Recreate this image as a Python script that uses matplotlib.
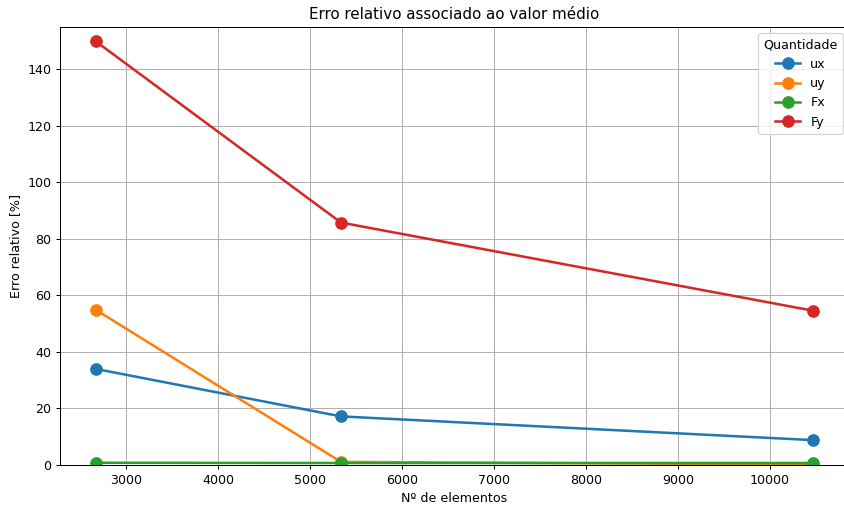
import matplotlib
matplotlib.use('Agg')
import matplotlib.pyplot as plt

# number of elements per mesh
n_elementos = [2670, 5335, 10470]

# relative error [%] for each quantity
erro_ux = [34.0, 17.2, 8.8]
erro_uy = [54.9, 1.1, 0.2]
erro_Fx = [0.8, 0.7, 0.7]
erro_Fy = [149.9, 85.8, 54.6]

series = [('ux', erro_ux), ('uy', erro_uy), ('Fx', erro_Fx), ('Fy', erro_Fy)]

DPI = 91
fig = plt.figure(figsize=(844 / DPI, 505 / DPI), dpi=DPI)
ax = fig.add_axes([60 / 844, 40 / 505, 789 / 844, 438 / 505])

for nome, valores in series:
    ax.plot(n_elementos, valores, marker='o', linewidth=2, markersize=9, label=nome)

ax.set_ylim(0, 155)
ax.set_xlabel('Nº de elementos')
ax.set_ylabel('Erro relativo [%]')
ax.set_title('Erro relativo associado ao valor médio')
ax.grid(True)
ax.legend(title='Quantidade', loc='upper right')

fig.savefig('out.png', dpi=DPI)
